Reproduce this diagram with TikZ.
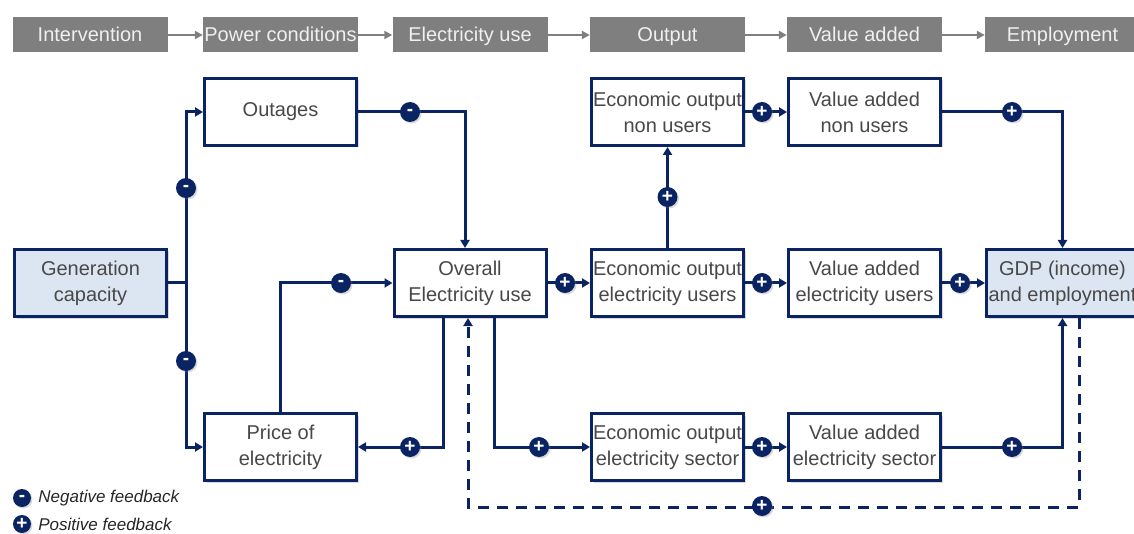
\documentclass[tikz,border=0pt]{standalone}
\usepackage{fontspec}
\setmainfont{Liberation Sans}
\usetikzlibrary{arrows.meta}
\usetikzlibrary{positioning}
\usetikzlibrary{shadows}
\definecolor{navy}{RGB}{10,36,99}
\definecolor{hdrgray}{RGB}{127,127,127}
\definecolor{boxtxt}{RGB}{72,72,72}
\definecolor{fedblue}{RGB}{220,230,242}

\begin{document}
\begin{tikzpicture}[x=1pt, y=-1pt,
    hdr/.style={fill=hdrgray, text=white!94!black, minimum width=155pt, minimum height=35pt,
      inner sep=0pt, text height=14pt, text depth=0pt, font=\fontsize{20}{24}\selectfont},
    hlink/.style={hdrgray, line width=2.8pt, -{Triangle[length=8pt, width=8pt]}},
    cbox/.style={draw=navy, line width=3pt, fill=white, minimum width=152pt, minimum height=67pt,
      inner sep=0pt, align=center, text=boxtxt, font=\fontsize{20}{26}\selectfont,
      drop shadow={shadow xshift=2pt, shadow yshift=-2pt, opacity=0.3}},
    fbox/.style={cbox, fill=fedblue},
    link/.style={navy, line width=3pt, -{Triangle[length=8pt, width=9pt]}},
    plain/.style={navy, line width=3pt},
    sgn/.style={circle, fill=navy, minimum size=20pt, inner sep=0pt, text=white,
      font=\bfseries\fontsize{19}{19}\selectfont,
      drop shadow={shadow xshift=1.5pt, shadow yshift=-1.5pt, opacity=0.3}},
    legtext/.style={font=\itshape\fontsize{17}{17}\selectfont, text=black!85, inner sep=0pt}]
  \useasboundingbox (0,0) rectangle (1134,534);

  % Header row
  \node[hdr] (h1) at (90,35) {Intervention};
  \node[hdr] (h2) at (280.5,35) {Power conditions};
  \node[hdr] (h3) at (470,35) {Electricity use};
  \node[hdr] (h4) at (667.5,35) {Output};
  \node[hdr] (h5) at (864.5,35) {Value added};
  \node[hdr] (h6) at (1062.5,35) {Employment};
  \foreach \a/\b in {h1/h2, h2/h3, h3/h4, h4/h5, h5/h6}
    \draw[hlink] (\a) -- (\b);

  % Boxes
  \node[fbox] (gen) at (90.5,283) {Generation\\capacity};
  \node[cbox] (outg) at (280.5,112) {\raisebox{-2pt}{Outages}};
  \node[cbox] (price) at (280.5,447) {Price of\\electricity};
  \node[cbox] (overall) at (470,283) {Overall\\Electricity use};
  \node[cbox] (eonu) at (667.5,112) {Economic output\\non users};
  \node[cbox] (eus) at (667.5,283) {Economic output\\electricity users};
  \node[cbox] (esec) at (667.5,447) {Economic output\\electricity sector};
  \node[cbox] (vanu) at (864.5,112) {Value added\\non users};
  \node[cbox] (vaus) at (864.5,283) {Value added\\electricity users};
  \node[cbox] (vasec) at (864.5,447) {Value added\\electricity sector};
  \node[fbox] (gdp) at (1062.5,283) {GDP (income)\\and employment};

  % Links
  \coordinate (fork) at (186,283);
  \draw[plain] (gen.east) -- (fork);
  \draw[link] (fork) |- (outg.west);
  \draw[link] (fork) |- (price.west);
  \draw[link] (outg.east) -| ([xshift=-5pt]overall.north);
  \draw[link] (price.north) |- (overall.west);
  \draw[link] ([xshift=-27pt]overall.south) |- (price.east);
  \draw[link] ([xshift=24pt]overall.south) |- (esec.west);
  \draw[link] (overall) -- (eus);
  \draw[link] (eus) -- (eonu);
  \draw[link] (eonu) -- (vanu);
  \draw[link] (eus) -- (vaus);
  \draw[link] (esec) -- (vasec);
  \draw[link] (vanu.east) -| (gdp.north);
  \draw[link] (vaus) -- (gdp);
  \draw[link] (vasec.east) -| (gdp.south);
  \draw[link, dashed, dash pattern=on 11pt off 8pt]
    ([xshift=16.5pt]gdp.south) -- ++(0,189) -| ([xshift=-2pt]overall.south);

  % Feedback signs
  \node[sgn] (m1) at (186,188) {-};
  \node[sgn] (m2) at (186,361) {-};
  \node[sgn] (m3) at (410,112) {-};
  \node[sgn] (m4) at (341,283) {-};
  \node[sgn] (p1) at (410,447) {+};
  \node[sgn] (p2) at (565,283) {+};
  \node[sgn] (p3) at (539,447) {+};
  \node[sgn] (p4) at (667.5,197) {+};
  \node[sgn] (p5) at (762,112) {+};
  \node[sgn] (p6) at (762,283) {+};
  \node[sgn] (p7) at (762,447) {+};
  \node[sgn] (p8) at (1012,112) {+};
  \node[sgn] (p9) at (960,283) {+};
  \node[sgn] (p10) at (1012,447) {+};
  \node[sgn] (p11) at (762,506) {+};

  % Legend
  \node[sgn, minimum size=18pt] (lgm) at (22,498) {-};
  \node[legtext, right=7pt of lgm] (lgmt) {Negative feedback};
  \node[sgn, minimum size=18pt] (lgp) at (22,524) {+};
  \node[legtext, right=7pt of lgp] (lgpt) {Positive feedback};
\end{tikzpicture}
\end{document}
